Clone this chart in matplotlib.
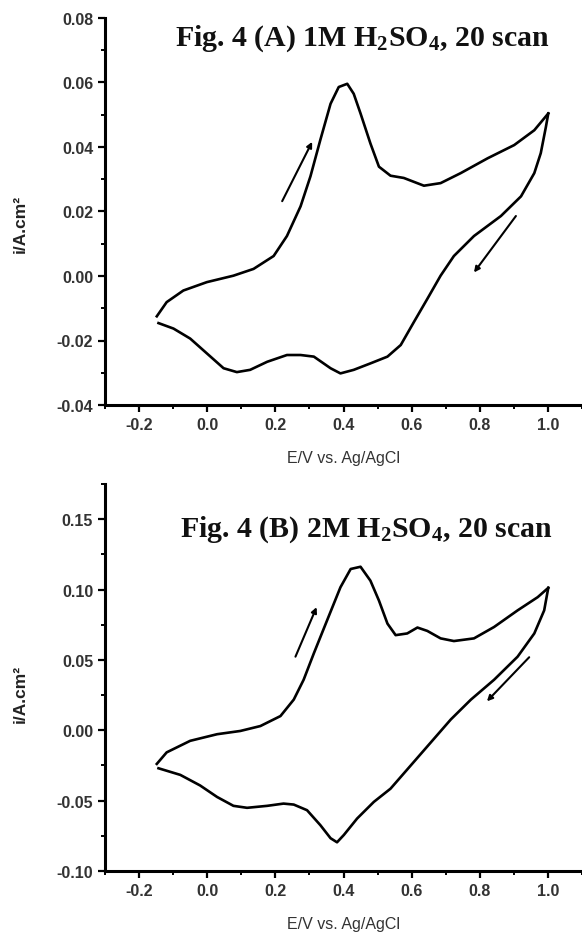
import matplotlib
matplotlib.use("Agg")
import matplotlib.pyplot as plt
from matplotlib.ticker import MultipleLocator, FormatStrFormatter

plt.rcParams['mathtext.fontset'] = 'custom'
plt.rcParams['mathtext.rm'] = 'Liberation Serif:bold'
plt.rcParams['mathtext.default'] = 'rm'

# ---------------- Data (A): 1M H2SO4 ----------------
a_fwd_E = [-0.148, -0.119, -0.070, -0.001, 0.077, 0.136, 0.195, 0.234, 0.274, 0.303,
           0.332, 0.362, 0.386, 0.411, 0.430, 0.450, 0.479, 0.504, 0.538, 0.577,
           0.636, 0.685, 0.744, 0.823, 0.901, 0.960, 1.001]
a_fwd_i = [-0.0125, -0.0081, -0.0045, -0.0019, 0.0001, 0.0022, 0.0062, 0.0124, 0.0216, 0.0309,
           0.0422, 0.0534, 0.0586, 0.0596, 0.0565, 0.0504, 0.0411, 0.0339, 0.0311, 0.0304,
           0.0280, 0.0288, 0.0319, 0.0365, 0.0406, 0.0452, 0.0504]
a_rev_E = [1.001, 0.994, 0.979, 0.960, 0.921, 0.862, 0.783, 0.724, 0.685, 0.646,
           0.607, 0.568, 0.529, 0.479, 0.430, 0.391, 0.362, 0.313, 0.274, 0.234,
           0.176, 0.126, 0.087, 0.048, -0.001, -0.050, -0.099, -0.143]
a_rev_i = [0.0504, 0.0462, 0.0381, 0.0319, 0.0247, 0.0186, 0.0124, 0.0062, 0.0001, -0.0071,
           -0.0142, -0.0214, -0.0250, -0.0271, -0.0291, -0.0302, -0.0286, -0.0250, -0.0245, -0.0245,
           -0.0266, -0.0291, -0.0298, -0.0286, -0.0240, -0.0194, -0.0163, -0.0146]
a_arrow_up = [(0.220, 0.0232), (0.308, 0.0416)]     # (tail, head)
a_arrow_down = [(0.906, 0.0186), (0.783, 0.0011)]

# ---------------- Data (B): 2M H2SO4 ----------------
b_fwd_E = [-0.148, -0.119, -0.050, 0.029, 0.097, 0.156, 0.215, 0.254, 0.283, 0.313,
           0.352, 0.391, 0.421, 0.450, 0.479, 0.504, 0.529, 0.553, 0.587, 0.617,
           0.646, 0.685, 0.724, 0.783, 0.842, 0.911, 0.970, 1.001]
b_fwd_i = [-0.0239, -0.0157, -0.0075, -0.0028, -0.0005, 0.0030, 0.0101, 0.0218, 0.0359, 0.0547,
           0.0782, 0.1016, 0.1146, 0.1162, 0.1063, 0.0922, 0.0758, 0.0676, 0.0688, 0.0730,
           0.0706, 0.0653, 0.0634, 0.0653, 0.0734, 0.0852, 0.0946, 0.1012]
b_rev_E = [1.001, 0.989, 0.960, 0.911, 0.842, 0.774, 0.715, 0.656, 0.597, 0.538,
           0.489, 0.440, 0.401, 0.381, 0.362, 0.332, 0.293, 0.254, 0.224, 0.176,
           0.117, 0.077, 0.029, -0.021, -0.079, -0.143]
b_rev_i = [0.1012, 0.0852, 0.0688, 0.0523, 0.0359, 0.0218, 0.0077, -0.0087, -0.0251, -0.0415,
           -0.0509, -0.0627, -0.0744, -0.0796, -0.0767, -0.0674, -0.0568, -0.0528, -0.0521, -0.0537,
           -0.0551, -0.0537, -0.0474, -0.0392, -0.0317, -0.0270]
b_arrow_up = [(0.259, 0.0523), (0.321, 0.0875)]
b_arrow_down = [(0.945, 0.0519), (0.821, 0.0206)]

titles = ["Fig. 4 (A) 1M $\\mathrm{H_2SO_4}$, 20 scan",
          "Fig. 4 (B) 2M $\\mathrm{H_2SO_4}$, 20 scan"]
xlabel = "E/V vs. Ag/AgCl"
ylabel = "i/A.cm²"

W, H = 582, 937
fig = plt.figure(figsize=(W / 100, H / 100), dpi=100)

def px_axes(left, top, right, bottom):
    return fig.add_axes([left / W, 1 - bottom / H, (right - left) / W, (bottom - top) / H])

axA = px_axes(105, 19, 582, 406)
axB = px_axes(105, 485, 582, 872)

configs = [
    (axA, a_fwd_E, a_fwd_i, a_rev_E, a_rev_i, a_arrow_up, a_arrow_down, titles[0],
     (-0.04, 0.08), 0.02, 0.01, "%.2f", (0.147, 0.931), 0.47),
    (axB, b_fwd_E, b_fwd_i, b_rev_E, b_rev_i, b_arrow_up, b_arrow_down, titles[1],
     (-0.10, 0.175), 0.05, 0.025, "%.2f", (0.157, 0.866), 0.46),
]

for (ax, fE, fi, rE, ri, aup, adn, title, ylim, ymaj, ymin, fmt, tpos, ylab_y) in configs:
    ax.plot(fE, fi, color='black', lw=1.9, solid_joinstyle='round')
    ax.plot(rE, ri, color='black', lw=1.9, solid_joinstyle='round')
    for (tail, head) in (aup, adn):
        ax.annotate('', xy=head, xytext=tail,
                    arrowprops=dict(arrowstyle='-|>', lw=1.5, color='black',
                                    mutation_scale=8, shrinkA=0, shrinkB=0))
    ax.set_xlim(-0.3, 1.1)
    ax.set_ylim(*ylim)
    ax.xaxis.set_major_locator(MultipleLocator(0.2))
    ax.xaxis.set_minor_locator(MultipleLocator(0.1))
    ax.yaxis.set_major_locator(MultipleLocator(ymaj))
    ax.yaxis.set_minor_locator(MultipleLocator(ymin))
    ax.xaxis.set_major_formatter(FormatStrFormatter("%.1f"))
    ax.yaxis.set_major_formatter(FormatStrFormatter(fmt))
    for s in ('top', 'right'):
        ax.spines[s].set_visible(False)
    for s in ('left', 'bottom'):
        ax.spines[s].set_linewidth(2.2)
    ax.tick_params(which='major', direction='out', length=5, width=1.6, pad=3.5)
    ax.tick_params(which='minor', direction='out', length=3, width=1.4)
    for lab in ax.get_xticklabels() + ax.get_yticklabels():
        lab.set_fontfamily('Liberation Sans')
        lab.set_fontweight('bold')
        lab.set_fontsize(11.5)
        lab.set_color('#333333')
    ax.set_xlabel(xlabel, fontfamily='Liberation Sans', fontsize=11.5, color='#333333', labelpad=13)
    ax.set_ylabel(ylabel, fontfamily='Liberation Sans', fontweight='bold', fontsize=12.5, color='#222222')
    ax.yaxis.set_label_coords(-0.162, ylab_y)
    ax.text(tpos[0], tpos[1], title, transform=ax.transAxes, ha='left', va='baseline',
            fontfamily='Liberation Serif', fontweight='bold', fontsize=21.5, color='#111111')

fig.savefig("out.png", dpi=100)
